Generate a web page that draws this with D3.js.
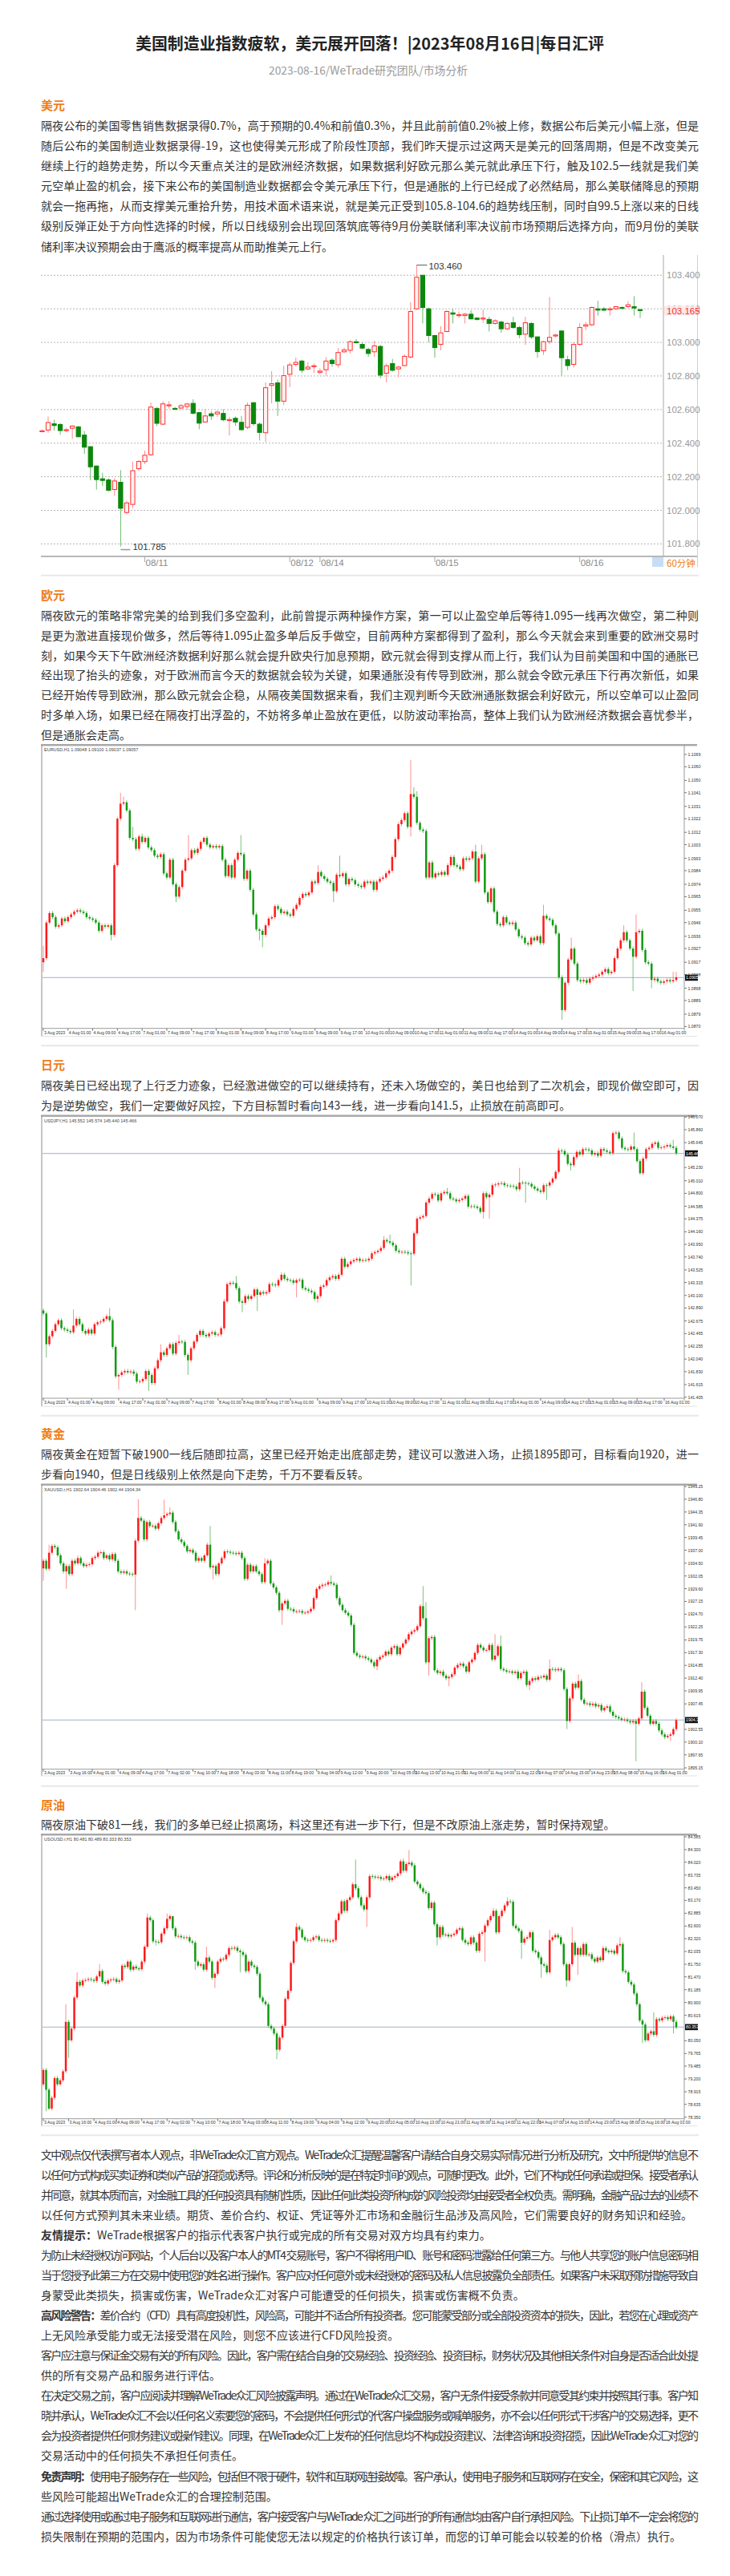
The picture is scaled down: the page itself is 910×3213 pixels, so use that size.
<!DOCTYPE html>
<html><head><meta charset="utf-8">
<script src="https://cdn.jsdelivr.net/npm/d3@7/dist/d3.min.js"></script>
<style>html,body{margin:0;padding:0;background:#fff}svg{display:block}</style>
</head><body><svg id="c"></svg>
<script>
// ---------------- DATA ----------------
const titleText = "美国制造业指数疲软，美元展开回落！|2023年08月16日|每日汇评";
const subText = "2023-08-16/WeTrade研究团队/市场分析";

const usdLines = [
"隔夜公布的美国零售销售数据录得0.7%，高于预期的0.4%和前值0.3%，并且此前前值0.2%被上修，数据公布后美元小幅上涨，但是",
"随后公布的美国制造业数据录得-19，这也使得美元形成了阶段性顶部，我们昨天提示过这两天是美元的回落周期，但是不改变美元",
"继续上行的趋势走势，所以今天重点关注的是欧洲经济数据，如果数据利好欧元那么美元就此承压下行，触及102.5一线就是我们美",
"元空单止盈的机会，接下来公布的美国制造业数据都会令美元承压下行，但是通胀的上行已经成了必然结局，那么美联储降息的预期",
"就会一拖再拖，从而支撑美元重拾升势，用技术面术语来说，就是美元正受到105.8-104.6的趋势线压制，同时自99.5上涨以来的日线",
"级别反弹正处于方向性选择的时候，所以日线级别会出现回落筑底等待9月份美联储利率决议前市场预期后选择方向，而9月份的美联",
"储利率决议预期会由于鹰派的概率提高从而助推美元上行。"];
const eurLines = [
"隔夜欧元的策略非常完美的给到我们多空盈利，此前曾提示两种操作方案，第一可以止盈空单后等待1.095一线再次做空，第二种则",
"是更为激进直接现价做多，然后等待1.095止盈多单后反手做空，目前两种方案都得到了盈利，那么今天就会来到重要的欧洲交易时",
"刻，如果今天下午欧洲经济数据利好那么就会提升欧央行加息预期，欧元就会得到支撑从而上行，我们认为目前美国和中国的通胀已",
"经出现了抬头的迹象，对于欧洲而言今天的数据就会较为关键，如果通胀没有传导到欧洲，那么就会令欧元承压下行再次新低，如果",
"已经开始传导到欧洲，那么欧元就会企稳，从隔夜美国数据来看，我们主观判断今天欧洲通胀数据会利好欧元，所以空单可以止盈同",
"时多单入场，如果已经在隔夜打出浮盈的，不妨将多单止盈放在更低，以防波动率抬高，整体上我们认为欧洲经济数据会喜忧参半，",
"但是通胀会走高。"];
const jpyLines = [
"隔夜美日已经出现了上行乏力迹象，已经激进做空的可以继续持有，还未入场做空的，美日也给到了二次机会，即现价做空即可，因",
"为是逆势做空，我们一定要做好风控，下方目标暂时看向143一线，进一步看向141.5，止损放在前高即可。"];
const goldLines = [
"隔夜黄金在短暂下破1900一线后随即拉高，这里已经开始走出底部走势，建议可以激进入场，止损1895即可，目标看向1920，进一",
"步看向1940，但是日线级别上依然是向下走势，千万不要看反转。"];
const oilLines = [
"隔夜原油下破81一线，我们的多单已经止损离场，料这里还有进一步下行，但是不改原油上涨走势，暂时保持观望。"];
const discParas = [
 [{t:"文中观点仅代表撰写者本人观点，非WeTrade众汇官方观点。WeTrade众汇提醒温馨客户请结合自身交易实际情况进行分析及研究，文中所提供的信息不"},
  {t:"以任何方式构成买卖证券和类似产品的招揽或诱导。评论和分析反映的是在特定时间的观点，可随时更改。此外，它们不构成任何承诺或担保。接受者承认"},
  {t:"并同意，就其本质而言，对金融工具的任何投资具有随机性质，因此任何此类投资所构成的风险投资均由接受者全权负责。需明确，金融产品过去的业绩不"},
  {t:"以任何方式预判其未来业绩。期货、差价合约、权证、凭证等外汇市场和金融衍生品涉及高风险，它们需要良好的财务知识和经验。"}],
 [{b:"友情提示：",t:"WeTrade根据客户的指示代表客户执行或完成的所有交易对双方均具有约束力。"}],
 [{t:"为防止未经授权访问网站，个人后台以及客户本人的MT4 交易账号，客户不得将用户ID、账号和密码泄露给任何第三方。与他人共享您的账户信息密码相"},
  {t:"当于您授予此第三方在交易中使用您的姓名进行操作。客户应对任何意外或未经授权的密码及私人信息披露负全部责任。如果客户未采取预防措施导致自"},
  {t:"身蒙受此类损失，损害或伤害，WeTrade众汇对客户可能遭受的任何损失，损害或伤害概不负责。"}],
 [{b:"高风险警告：",t:"差价合约（CFD）具有高度投机性，风险高，可能并不适合所有投资者。您可能蒙受部分或全部投资资本的损失，因此，若您在心理或资产"},
  {t:"上无风险承受能力或无法接受潜在风险，则您不应该进行CFD风险投资。"}],
 [{t:"客户应注意与保证金交易有关的所有风险。因此，客户需在结合自身的交易经验、投资经验、投资目标，财务状况及其他相关条件对自身是否适合此处提"},
  {t:"供的所有交易产品和服务进行评估。"}],
 [{t:"在决定交易之前，客户应阅读并理解WeTrade众汇风险披露声明。通过在WeTrade众汇交易，客户无条件接受条款并同意受其约束并按照其行事。客户知"},
  {t:"晓并承认，WeTrade众汇不会以任何名义索要您的密码，不会提供任何形式的代客户操盘服务或喊单服务，亦不会以任何形式干涉客户的交易选择，更不"},
  {t:"会为投资者提供任何财务建议或操作建议。同理，在WeTrade众汇上发布的任何信息均不构成投资建议、法律咨询和投资招揽，因此WeTrade 众汇对您的"},
  {t:"交易活动中的任何损失不承担任何责任。"}],
 [{b:"免责声明：",t:"使用电子服务存在一些风险，包括但不限于硬件，软件和互联网连接故障。客户承认，使用电子服务和互联网存在安全，保密和其它风险，这"},
  {t:"些风险可能超出WeTrade众汇的合理控制范围。"}],
 [{t:"通过选择使用或通过电子服务和互联网进行通信，客户接受客户与WeTrade 众汇之间进行的所有通信均由客户自行承担风险。下止损订单不一定会将您的"},
  {t:"损失限制在预期的范围内，因为市场条件可能使您无法以规定的价格执行该订单，而您的订单可能会以较差的价格（滑点）执行。"}]
];

// USD index, 60-minute candles
const usdO = [102.472,102.478,102.515,102.511,102.477,102.489,102.497,102.448,102.379,102.264,102.188,102.181,102.124,102.167,101.987,102.035,102.248,102.290,102.331,102.607,102.513,102.625,102.607,102.609,102.618,102.637,102.582,102.526,102.575,102.574,102.577,102.537,102.548,102.524,102.494,102.641,102.513,102.462,102.744,102.759,102.650,102.810,102.869,102.889,102.842,102.858,102.822,102.837,102.894,102.867,102.944,102.953,103.004,102.988,102.958,102.944,102.976,102.816,102.874,102.842,102.862,102.913,103.200,103.400,103.200,103.041,102.988,103.065,103.176,103.160,103.160,103.168,103.145,103.140,103.137,103.113,103.121,103.081,103.117,103.089,103.049,103.113,103.033,102.950,103.005,103.039,103.068,102.897,102.869,102.988,103.097,103.105,103.200,103.200,103.195,103.200,103.208,103.213,103.213,103.195];
const usdH = [102.480,102.559,102.539,102.520,102.491,102.507,102.502,102.472,102.382,102.266,102.224,102.192,102.192,102.239,102.057,102.291,102.299,102.355,102.642,102.615,102.650,102.650,102.615,102.634,102.642,102.661,102.586,102.602,102.591,102.594,102.602,102.555,102.559,102.562,102.642,102.644,102.523,102.762,102.829,102.778,102.861,102.881,102.909,102.897,102.881,102.874,102.845,102.913,102.905,102.966,102.969,103.014,103.020,103.001,102.969,103.009,102.985,102.874,102.902,102.861,102.929,103.240,103.460,103.400,103.208,103.045,103.097,103.192,103.200,103.184,103.176,103.192,103.150,103.196,103.152,103.137,103.129,103.121,103.152,103.097,103.152,103.120,103.035,103.010,103.270,103.050,103.070,102.921,103.001,103.116,103.121,103.216,103.248,103.210,103.212,103.216,103.215,103.245,103.275,103.200];
const usdL = [102.465,102.462,102.475,102.451,102.467,102.424,102.435,102.336,102.180,102.124,102.145,102.111,102.086,101.785,101.977,102.012,102.236,102.275,102.323,102.502,102.507,102.606,102.598,102.602,102.599,102.570,102.483,102.523,102.539,102.555,102.531,102.446,102.503,102.475,102.483,102.503,102.416,102.406,102.637,102.562,102.626,102.733,102.858,102.818,102.834,102.818,102.810,102.802,102.855,102.850,102.937,102.934,102.993,102.961,102.913,102.913,102.786,102.762,102.826,102.794,102.858,102.905,103.192,103.113,103.001,102.909,102.953,103.060,103.113,103.145,103.113,103.137,103.130,103.117,103.065,103.105,103.057,103.073,103.081,103.025,102.985,103.020,102.909,102.925,102.990,103.030,102.802,102.834,102.850,102.980,103.073,103.097,103.160,103.185,103.160,103.192,103.200,103.205,103.160,103.145];
const usdC = [102.474,102.523,102.505,102.475,102.480,102.502,102.438,102.376,102.259,102.183,102.178,102.119,102.175,102.012,102.044,102.236,102.291,102.328,102.615,102.518,102.634,102.628,102.602,102.623,102.633,102.578,102.519,102.562,102.562,102.585,102.539,102.540,102.526,102.480,102.626,102.516,102.464,102.730,102.754,102.650,102.802,102.866,102.881,102.834,102.853,102.861,102.829,102.889,102.874,102.940,102.955,103.004,102.998,102.966,102.934,102.979,102.805,102.861,102.834,102.853,102.917,103.184,103.388,103.208,103.041,102.969,103.057,103.184,103.168,103.165,103.168,103.140,103.137,103.145,103.113,103.129,103.081,103.113,103.089,103.046,103.117,103.033,102.945,103.004,103.030,103.044,102.909,102.862,102.988,103.089,103.105,103.208,103.192,103.192,103.200,103.213,103.205,103.224,103.205,103.192];
const usdTicks = [103.4,103.2,103.0,102.8,102.6,102.4,102.2,102.0,101.8];
const usdDates = ["08/11","08/12","08/14","08/15","08/16"];
const usdDateIdx = [17,41,46,65,89];
const usdLast = "103.165";

// EURUSD H1
const eurOpen0 = 1.0917;
const eurClose = [1.0920,1.0946,1.0953,1.0950,1.0943,1.0944,1.0949,1.0947,1.0950,1.0952,
1.0954,1.0955,1.0954,1.0953,1.0950,1.0949,1.0948,1.0946,1.0940,1.0944,
1.0943,1.0944,1.0937,1.0988,1.1022,1.1033,1.1034,1.1028,1.1008,1.1007,
1.1000,1.1009,1.1005,1.1008,1.1001,1.0999,1.0995,1.0994,1.0996,1.0982,
1.0979,1.0992,1.0974,1.0965,1.0972,1.0984,1.0992,1.0993,1.0999,1.0997,
1.1000,1.1005,1.1008,1.1003,1.1001,1.1002,1.1001,1.1002,1.0992,1.0980,
1.0988,1.0979,1.0992,1.0997,1.0996,1.0978,1.0984,1.0970,1.0952,1.0941,
1.0940,1.0937,1.0944,1.0949,1.0950,1.0958,1.0956,1.0953,1.0954,1.0952,
1.0951,1.0956,1.0959,1.0964,1.0967,1.0966,1.0968,1.0976,1.0975,1.0983,
1.0980,1.0978,1.0976,1.0975,1.0969,1.0981,1.0980,1.0982,1.0974,1.0978,
1.0977,1.0974,1.0973,1.0972,1.0976,1.0975,1.0976,1.0970,1.0976,1.0978,
1.0979,1.0982,1.0984,1.0994,1.1007,1.1018,1.1021,1.1026,1.1016,1.1040,
1.1038,1.1019,1.1014,1.1013,1.0979,1.0990,1.0979,1.0982,1.0981,1.0983,
1.0981,1.0988,1.0994,1.0988,1.0987,1.0985,1.0993,1.0992,1.0993,1.0998,
1.0976,1.0993,1.0996,1.0968,1.0961,1.0971,1.0954,1.0945,1.0944,1.0950,
1.0946,1.0945,1.0946,1.0941,1.0936,1.0935,1.0931,1.0930,1.0935,1.0933,
1.0936,1.0931,1.0951,1.0949,1.0948,1.0944,1.0938,1.0906,1.0882,1.0902,
1.0919,1.0927,1.0916,1.0904,1.0903,1.0904,1.0902,1.0905,1.0906,1.0907,
1.0908,1.0910,1.0912,1.0909,1.0910,1.0920,1.0927,1.0933,1.0939,1.0933,
1.0927,1.0921,1.0939,1.0940,1.0926,1.0917,1.0916,1.0904,1.0905,1.0903,
1.0902,1.0903,1.0904,1.0903,1.0904,1.0906];
const eurWicks = [[0,1.0929,1.0910],[22,null,1.0933],[25,1.1041,null],[26,1.1038,null],[29,1.1016,null],[32,1.1011,null],[43,null,1.0961],[47,1.1010,null],[52,1.1009,null],[64,1.1010,null],[70,null,1.0933],[71,null,1.0928],[89,1.0988,null],[94,null,1.0961],[96,1.0995,null],[119,1.1065,1.1009],[120,1.1045,null],[121,1.1042,null],[140,1.1003,null],[142,1.1003,null],[162,1.0959,null],[168,null,1.0875],[171,1.0935,null],[188,1.0944,null],[191,null,1.0896],[192,1.0952,null],[197,null,1.0898],[204,1.0910,null],[205,1.0910,null]];
const eurTicks = [1.1069,1.1060,1.1050,1.1041,1.1031,1.1022,1.1012,1.1003,1.0993,1.0984,1.0974,1.0965,1.0955,1.0946,1.0936,1.0927,1.0917,1.0908,1.0898,1.0889,1.0879,1.0870];
const eurLast = 1.09057;

// USDJPY H1
const jpyOpen0 = 142.85;
const jpyClose = [142.799,142.287,142.420,142.509,142.620,142.687,142.554,142.531,142.509,142.487,
142.598,142.709,142.620,142.509,142.465,142.531,142.465,142.620,142.652,142.665,
142.709,142.754,142.687,142.242,141.752,141.775,141.819,141.841,141.819,141.833,
141.797,141.664,141.670,141.708,141.841,141.775,141.641,141.886,142.020,142.153,
142.109,142.220,142.287,142.131,142.309,142.331,142.325,142.109,142.020,142.220,
142.331,142.443,142.509,142.443,142.420,142.465,142.487,142.443,142.450,142.554,
142.999,143.288,143.310,143.305,143.221,142.999,142.977,143.088,143.043,143.088,
143.199,143.110,143.154,143.132,143.154,143.288,143.280,143.266,143.355,143.444,
143.377,143.355,143.350,143.310,143.355,143.360,143.221,143.199,143.177,143.154,
143.043,143.088,143.244,143.266,143.355,143.399,143.422,143.377,143.444,143.711,
143.578,143.622,143.666,143.689,143.711,143.675,143.689,143.685,143.711,143.800,
143.822,143.844,143.889,144.023,144.000,143.978,143.934,143.844,143.822,143.825,
143.820,143.800,143.795,144.134,144.379,144.401,144.423,144.646,144.713,144.788,
144.779,144.681,144.801,144.824,144.801,144.713,144.699,144.668,144.690,144.713,
144.757,144.579,144.585,144.579,144.557,144.490,144.801,144.735,144.779,144.935,
144.948,144.966,144.971,144.935,144.926,144.922,144.913,144.868,144.980,144.975,
144.966,144.957,144.913,144.877,144.846,144.824,144.935,144.930,144.980,145.046,
145.158,145.514,145.505,145.447,145.291,145.269,145.402,145.491,145.447,145.536,
145.530,145.514,145.447,145.469,145.425,145.536,145.514,145.491,145.469,145.803,
145.812,145.714,145.558,145.536,145.527,145.580,145.536,145.336,145.135,145.380,
145.536,145.558,145.625,145.647,145.558,145.565,145.580,145.603,145.580,145.558,
145.466];
const jpyWicks = [[1,null,142.064],[10,142.865,null],[22,142.887,null],[25,null,141.530],[35,null,141.508],[39,142.287,null],[45,142.443,null],[48,null,141.775],[60,143.043,null],[64,143.422,null],[66,null,142.821],[71,null,142.843],[79,143.488,null],[84,null,143.066],[91,null,142.977],[113,144.089,null],[115,144.112,null],[122,null,143.266],[134,144.890,null],[146,null,144.379],[148,null,144.379],[158,145.224,null],[160,null,144.646],[167,null,144.690],[171,145.558,null],[175,null,145.180],[190,145.847,null],[196,145.812,null],[198,null,145.113],[209,145.692,null]];
const jpyTicks = [146.070,145.860,145.645,145.230,145.010,144.800,144.585,144.375,144.160,143.950,143.740,143.525,143.315,143.100,142.890,142.675,142.465,142.255,142.040,141.830,141.615,141.405];
const jpyLast = 145.466;

// XAUUSD H1
const goldOpen0 = 1933.50;
const goldClose = [1934.98,1933.44,1936.52,1937.81,1937.55,1936.01,1934.47,1932.92,1933.95,1932.41,
1934.98,1934.47,1935.49,1934.47,1933.95,1934.21,1934.30,1935.49,1935.75,1936.52,
1936.62,1935.49,1936.01,1935.24,1936.27,1934.98,1932.92,1932.67,1932.92,1932.51,
1932.41,1932.30,1938.83,1943.20,1942.69,1939.09,1942.43,1941.66,1941.70,1941.15,
1942.18,1943.20,1943.72,1943.97,1944.23,1942.43,1940.63,1939.09,1938.58,1937.81,
1936.78,1937.04,1936.52,1934.98,1935.49,1934.98,1936.01,1938.06,1933.70,1933.95,
1932.41,1934.47,1935.49,1936.78,1936.70,1936.52,1936.45,1936.27,1936.52,1935.49,
1931.49,1934.21,1932.92,1933.95,1932.92,1932.41,1930.87,1934.47,1934.98,1930.61,
1929.84,1928.81,1925.47,1926.76,1927.27,1925.73,1925.65,1925.22,1925.25,1925.30,
1924.96,1925.00,1925.22,1925.73,1927.79,1929.58,1930.10,1930.35,1930.40,1930.87,
1930.61,1930.35,1927.79,1926.50,1925.47,1924.96,1924.44,1922.65,1917.25,1916.74,
1916.48,1916.55,1916.22,1915.97,1915.45,1914.68,1915.97,1916.48,1916.74,1917.51,
1917.00,1918.28,1918.54,1917.00,1918.28,1919.05,1919.82,1920.85,1921.36,1921.62,
1922.39,1926.24,1923.93,1915.45,1920.08,1920.33,1913.91,1913.40,1913.65,1912.88,
1912.37,1912.63,1913.14,1914.42,1914.94,1915.20,1914.68,1913.65,1915.45,1915.97,
1917.25,1918.79,1918.28,1917.76,1917.80,1918.79,1915.97,1916.74,1918.54,1914.17,
1913.91,1913.65,1913.70,1913.40,1913.65,1912.37,1913.40,1913.65,1911.08,1911.85,
1912.37,1912.11,1912.63,1912.55,1912.88,1912.11,1914.17,1914.10,1913.91,1914.17,
1913.91,1910.31,1904.15,1908.51,1911.34,1910.57,1911.85,1908.26,1907.49,1907.55,
1907.23,1907.49,1906.97,1907.23,1906.20,1906.71,1906.97,1905.94,1905.17,1904.92,
1904.66,1904.40,1904.45,1904.15,1903.89,1904.15,1903.63,1904.66,1909.80,1906.71,
1905.17,1903.63,1904.15,1903.63,1902.35,1901.58,1901.06,1901.32,1901.58,1902.60,
1904.34];
const goldWicks = [[0,null,1931.12],[2,1938.06,null],[8,null,1929.58],[12,1936.01,null],[32,null,1925.47],[33,1946.80,null],[42,1946.70,null],[44,1945.26,null],[58,1941.66,null],[59,null,1931.38],[77,1935.49,null],[83,null,1922.65],[100,1932.15,null],[116,null,1913.91],[132,1930.10,null],[133,1927.02,null],[134,null,1912.88],[141,null,1910.83],[157,1920.85,null],[159,1920.59,null],[169,null,1910.06],[176,1915.97,null],[182,null,1902.60],[186,1913.14,null],[206,null,1896.44],[208,1911.60,null],[218,null,1900.29]];
const goldTicks = [1949.25,1946.80,1944.35,1941.90,1939.45,1937.00,1934.50,1932.05,1929.60,1927.15,1924.70,1922.25,1919.75,1917.30,1914.85,1912.40,1909.95,1907.45,1902.55,1900.10,1897.65,1895.15];
const goldLast = 1904.34;

// USOUSD H1
const oilOpen0 = 79.08;
const oilClose = [79.40,78.96,78.54,78.78,79.22,79.08,79.17,79.37,80.47,80.06,
80.32,81.01,81.36,81.28,81.39,81.40,81.42,81.405,81.38,81.48,
81.60,81.36,81.32,81.39,81.41,81.42,81.36,81.39,81.72,81.69,
81.81,81.63,81.70,81.66,81.64,81.81,82.14,82.79,82.73,82.26,
82.25,82.24,82.43,82.55,82.76,82.82,82.55,82.37,82.38,82.35,
82.34,82.35,82.26,82.23,81.81,81.72,81.75,81.63,81.90,81.81,
81.45,81.54,81.81,81.87,81.86,81.96,82.11,82.10,82.12,82.05,
82.02,81.96,81.60,81.81,81.72,81.69,81.54,81.01,80.92,80.86,
80.38,80.32,80.21,79.85,80.12,80.38,80.98,81.16,81.78,82.26,
82.58,82.52,82.35,82.29,82.28,82.29,82.35,82.37,82.29,82.28,
82.29,82.27,82.26,82.29,82.73,82.88,83.15,82.94,83.18,83.24,
83.53,83.44,83.24,83.06,82.97,83.24,83.71,83.70,83.68,83.69,
83.65,83.66,83.71,83.62,83.68,83.71,83.77,84.04,83.83,83.98,
84.01,83.95,83.59,83.53,83.44,83.36,83.33,83.00,83.12,82.64,
82.35,82.58,82.40,82.41,82.37,82.40,82.43,82.52,82.55,82.29,
82.23,82.20,82.35,82.23,82.05,82.43,82.46,82.61,82.73,82.82,
82.94,82.46,82.82,82.94,83.06,83.15,83.14,82.61,82.55,82.49,
82.23,82.32,82.35,82.46,82.05,82.02,81.90,81.75,81.72,81.57,
82.29,82.35,82.40,82.35,82.20,81.75,81.39,81.75,82.23,81.96,
82.11,81.96,82.20,81.96,81.97,81.87,81.81,81.90,81.84,82.11,
82.05,82.02,82.05,81.99,82.17,82.20,81.60,81.57,81.36,81.30,
81.10,80.86,80.50,80.41,80.06,80.21,80.26,80.18,80.53,80.50,
80.56,80.57,80.53,80.59,80.47,80.35];
const oilWicks = [[1,null,78.48],[2,null,78.51],[8,80.86,null],[9,null,79.67],[12,81.57,null],[20,81.75,null],[37,82.88,null],[40,null,82.17],[44,82.88,null],[46,82.70,null],[54,null,81.63],[58,82.14,null],[61,null,81.22],[70,null,81.57],[83,null,79.64],[90,82.67,null],[111,84.08,null],[115,null,82.58],[128,84.10,null],[130,84.29,null],[140,null,82.17],[157,null,81.81],[160,83.00,null],[165,83.24,null],[170,null,81.87],[177,null,81.45],[180,82.52,null],[186,null,81.25],[188,82.58,null],[190,null,81.51],[205,82.35,null],[213,null,80.00],[215,null,80.03],[217,80.68,null],[224,null,80.21]];
const oilTicks = [84.585,84.300,84.020,83.735,83.450,83.170,82.885,82.600,82.320,82.035,81.750,81.470,81.185,80.900,80.615,80.050,79.765,79.485,79.200,78.915,78.635,78.350];
const oilLast = 80.353;

const datesA = ["3 Aug 2023","4 Aug 01:00","4 Aug 09:00","4 Aug 17:00","7 Aug 01:00","7 Aug 09:00","7 Aug 17:00","8 Aug 01:00","8 Aug 09:00","8 Aug 17:00","9 Aug 01:00","9 Aug 09:00","9 Aug 17:00","10 Aug 01:00","10 Aug 09:00","10 Aug 17:00","11 Aug 01:00","11 Aug 09:00","11 Aug 17:00","14 Aug 01:00","14 Aug 09:00","14 Aug 17:00","15 Aug 01:00","15 Aug 09:00","15 Aug 17:00","16 Aug 01:00"];
const datesB = ["3 Aug 2023","3 Aug 16:00","4 Aug 01:00","4 Aug 09:00","4 Aug 17:00","7 Aug 02:00","7 Aug 10:00","7 Aug 18:00","8 Aug 03:00","8 Aug 11:00","8 Aug 19:00","9 Aug 04:00","9 Aug 12:00","9 Aug 20:00","10 Aug 05:00","10 Aug 13:00","10 Aug 21:00","11 Aug 06:00","11 Aug 14:00","11 Aug 22:00","14 Aug 07:00","14 Aug 15:00","14 Aug 23:00","15 Aug 08:00","15 Aug 16:00","16 Aug 01:00"];
const eurDateIdx = [0,8,16,24,32,40,48,56,64,72,80,88,96,104,112,120,128,136,144,152,160,168,176,184,192,200];
const jpyDateIdx = [0,8,16,25,33,41,49,58,66,74,82,91,99,107,115,123,132,140,148,156,165,173,181,189,197,206];
const goldDateIdx = [0,9,17,26,34,43,52,60,69,78,86,95,103,112,121,129,138,146,155,164,172,181,190,198,207,215];
const oilDateIdx = [0,9,18,26,35,44,53,62,71,79,88,97,106,115,123,132,141,150,159,168,176,185,194,203,212,221];

// ---------------- DRAW ----------------
const CJK = "'Noto Sans CJK SC','Noto Sans',sans-serif";
const LAT = "'Liberation Sans',Arial,sans-serif";
const svg = d3.select('#c').attr('width',910).attr('height',3213);
svg.append('rect').attr('width',910).attr('height',3213).attr('fill','#fff');

svg.append('text').attr('x',461).attr('y',53).attr('text-anchor','middle').attr('dominant-baseline','central')
  .attr('font-family',CJK).attr('font-size',20).attr('font-weight',700).attr('fill','#222')
  .attr('textLength',584).attr('lengthAdjust','spacingAndGlyphs').text(titleText);
svg.append('text').attr('x',459).attr('y',87).attr('text-anchor','middle').attr('dominant-baseline','central')
  .attr('font-family',CJK).attr('font-size',14).attr('fill','#9a9a9a')
  .attr('textLength',248).attr('lengthAdjust','spacingAndGlyphs').text(subText);

function header(txt,y){
  svg.append('text').attr('x',51).attr('y',y).attr('dominant-baseline','central')
    .attr('font-family',CJK).attr('font-size',15).attr('font-weight',700).attr('fill','#ef7d1a').text(txt);
}
function para(lines,y0,step){
  lines.forEach((ln,j)=>{
    const o = typeof ln==='string'?{t:ln}:ln;
    const t = svg.append('text').attr('x',51).attr('y',y0+j*step).attr('dominant-baseline','central')
      .attr('font-family',CJK).attr('font-size',14).attr('fill','#333');
    if(o.b) t.append('tspan').attr('font-weight',700).text(o.b);
    t.append('tspan').text(o.t);
    if(j<lines.length-1) t.attr('textLength',820).attr('lengthAdjust','spacing');
  });
}
function sep(y){
  svg.append('line').attr('x1',51).attr('x2',871).attr('y1',y).attr('y2',y).attr('stroke','#e8e8e8').attr('stroke-width',2);
}

header('美元',130); para(usdLines,155.7,25.15);
header('欧元',741.7); para(eurLines,766.7,24.9);
header('日元',1327.3); para(jpyLines,1353.3,25);
header('黄金',1787.3); para(goldLines,1813.3,25);
header('原油',2250); para(oilLines,2275,25);
let yy=2686.7; discParas.forEach(p=>{para(p,yy,25.05); yy+=p.length*25.05;});
[717.7,1304.3,1765.7,2227.7,2663.3].forEach(sep);

// ---------- Chart 1: USD index ----------
(function(){
  const g = svg.append('g');
  const x = d3.scaleLinear().domain([0,usdC.length-1]).range([52.5,798]);
  const y = d3.scaleLinear().domain([101.8,103.4]).range([678.4,343.3]);
  g.selectAll('.gl').data(usdTicks).join('line').attr('x1',51).attr('x2',827)
    .attr('y1',d=>y(d)).attr('y2',d=>y(d)).attr('stroke','#b5b5b5').attr('stroke-dasharray','2,2');
  g.append('line').attr('x1',827).attr('x2',827).attr('y1',318).attr('y2',694).attr('stroke','#a8a8a8');
  g.append('line').attr('x1',869.5).attr('x2',869.5).attr('y1',318).attr('y2',707).attr('stroke','#d0d0d0');
  g.append('line').attr('x1',51).attr('x2',869).attr('y1',694).attr('y2',694).attr('stroke','#a0a0a0').attr('stroke-width',1.5);
  g.selectAll('.tl').data(usdTicks).join('text').attr('x',831).attr('y',d=>y(d)).attr('dominant-baseline','central')
    .attr('font-family',LAT).attr('font-size',11.5).attr('fill','#999').text(d=>d3.format('.3f')(d));
  // candles
  const idx = d3.range(usdC.length);
  g.selectAll('.wk').data(idx).join('line').attr('x1',i=>x(i)).attr('x2',i=>x(i))
    .attr('y1',i=>y(usdH[i])).attr('y2',i=>y(usdL[i]))
    .attr('stroke',i=>usdC[i]>=usdO[i]?'#ff8a8a':'#6fb86f').attr('stroke-width',1);
  g.selectAll('.bd').data(idx).join('rect').attr('x',i=>x(i)-2.6).attr('width',5.2)
    .attr('y',i=>y(Math.max(usdO[i],usdC[i])))
    .attr('height',i=>Math.max(1.2,Math.abs(y(usdO[i])-y(usdC[i]))))
    .attr('fill',i=>usdC[i]>=usdO[i]?'#fff2f2':'#0b870b')
    .attr('stroke',i=>usdC[i]>=usdO[i]?'#ff3030':'#0b870b').attr('stroke-width',1);
  // high / low annotations
  const hi = d3.maxIndex(usdH), lo = d3.minIndex(usdL);
  g.append('line').attr('x1',x(hi)).attr('x2',x(hi)+13).attr('y1',y(usdH[hi])).attr('y2',y(usdH[hi])).attr('stroke','#555');
  g.append('text').attr('x',x(hi)+15).attr('y',y(usdH[hi])+1).attr('dominant-baseline','central')
    .attr('font-family',LAT).attr('font-size',11.5).attr('fill','#333').text(d3.format('.3f')(usdH[hi]));
  g.append('line').attr('x1',x(lo)).attr('x2',x(lo)+12).attr('y1',y(usdL[lo])+4).attr('y2',y(usdL[lo])+4).attr('stroke','#999').attr('stroke-width',1.5);
  g.append('text').attr('x',x(lo)+15).attr('y',y(usdL[lo])).attr('dominant-baseline','central')
    .attr('font-family',LAT).attr('font-size',11.5).attr('fill','#333').text(d3.format('.3f')(usdL[lo]));
  // last price box
  g.append('rect').attr('x',828).attr('y',381.5).attr('width',41).attr('height',12).attr('fill','#fde9e9');
  g.append('text').attr('x',831).attr('y',387.5).attr('dominant-baseline','central').attr('font-family',LAT)
    .attr('font-size',11.5).attr('fill','#f03030').text(usdLast);
  // date axis
  g.selectAll('.dt').data(usdDateIdx).join('line').attr('x1',d=>x(d)).attr('x2',d=>x(d)).attr('y1',694).attr('y2',701).attr('stroke','#aaa');
  g.selectAll('.dl').data(usdDates).join('text').attr('x',(d,i)=>x(usdDateIdx[i])+1).attr('y',701.5).attr('dominant-baseline','central')
    .attr('font-family',LAT).attr('font-size',11.5).attr('fill','#8a8a8a').text(d=>d);
  g.append('rect').attr('x',813).attr('y',695).attr('width',14).attr('height',12).attr('fill','#c7ddf6');
  g.append('text').attr('x',831).attr('y',701.5).attr('dominant-baseline','central').attr('font-family',CJK)
    .attr('font-size',11.5).attr('fill','#f07a10').text('60分钟');
})();

// ---------- MT4 charts ----------
function mt4(c){
  const g = svg.append('g');
  const N = c.closes.length;
  const x = d3.scaleLinear().domain([0,N-1]).range([54,843]);
  const y = d3.scaleLinear().domain([c.vb,c.vt]).range([c.yb,c.yt]);
  const L=52, R=853;
  // frame
  g.append('line').attr('x1',51).attr('x2',869).attr('y1',c.top).attr('y2',c.top).attr('stroke','#a9a9a9').attr('stroke-width',2.5);
  g.append('line').attr('x1',L).attr('x2',L).attr('y1',c.top).attr('y2',c.imgBottom).attr('stroke','#8d8d8d');
  g.append('line').attr('x1',R).attr('x2',R).attr('y1',c.top).attr('y2',c.bottom+3).attr('stroke','#9a9a9a');
  g.append('line').attr('x1',L).attr('x2',R).attr('y1',c.bottom).attr('y2',c.bottom).attr('stroke','#9a9a9a');
  g.append('line').attr('x1',51).attr('x2',869).attr('y1',c.imgBottom).attr('y2',c.imgBottom).attr('stroke','#e2e2e2');
  g.append('text').attr('x',55).attr('y',c.top+6).attr('dominant-baseline','central').attr('font-family',LAT)
    .attr('font-size',5.5).attr('fill','#444').text(c.header);
  // current price line
  g.append('line').attr('x1',L).attr('x2',R).attr('y1',y(c.last)).attr('y2',y(c.last)).attr('stroke','#b7bfd6').attr('stroke-width',1.2);
  // y ticks
  g.selectAll('.tk').data(c.ticks).join('line').attr('x1',R).attr('x2',R+3).attr('y1',d=>y(d)).attr('y2',d=>y(d)).attr('stroke','#777');
  g.selectAll('.tl').data(c.ticks).join('text').attr('x',R+4.5).attr('y',d=>y(d)).attr('dominant-baseline','central')
    .attr('font-family',LAT).attr('font-size',5.2).attr('fill','#333').text(d=>d3.format(c.fmt)(d));
  g.append('rect').attr('x',R+1).attr('y',y(c.last)-3.8).attr('width',16).attr('height',7.6).attr('fill','#111');
  g.append('text').attr('x',R+2).attr('y',y(c.last)).attr('dominant-baseline','central').attr('font-family',LAT)
    .attr('font-size',5.2).attr('fill','#fff').text(d3.format(c.lastFmt)(c.last));
  // date ticks
  g.selectAll('.dt').data(c.dateIdx).join('line').attr('x1',d=>x(d)).attr('x2',d=>x(d)).attr('y1',c.bottom).attr('y2',c.bottom+3).attr('stroke','#777');
  g.selectAll('.dl').data(c.dates).join('text').attr('x',(d,i)=>x(c.dateIdx[i])+1).attr('y',c.dateY).attr('dominant-baseline','central')
    .attr('font-family',LAT).attr('font-size',5.2).attr('fill','#333').text(d=>d);
  // candles
  const wmap = new Map(c.wicks.map(w=>[w[0],w]));
  const data = c.closes.map((cl,i)=>{
    const o = i===0?c.open0:c.closes[i-1];
    const w = wmap.get(i);
    const hiV = Math.max(o,cl), loV = Math.min(o,cl);
    return {i,o,c:cl,h:w&&w[1]!=null?Math.max(w[1],hiV):hiV,l:w&&w[2]!=null?Math.min(w[2],loV):loV,
            hx:!(w&&w[1]!=null), lx:!(w&&w[2]!=null)};
  });
  const up = d=>d.c>=d.o;
  g.selectAll('.wk').data(data).join('line').attr('x1',d=>x(d.i)).attr('x2',d=>x(d.i))
    .attr('y1',d=>y(d.h)-(d.hx?2.5:0)).attr('y2',d=>y(d.l)+(d.lx?2.5:0))
    .attr('stroke',d=>up(d)?'#ff5a5a':'#3aa63a').attr('stroke-width',0.9).attr('stroke-opacity',0.75);
  g.selectAll('.bd').data(data).join('rect').attr('x',d=>x(d.i)-1.25).attr('width',2.5)
    .attr('y',d=>y(Math.max(d.o,d.c))).attr('height',d=>Math.max(0.9,Math.abs(y(d.o)-y(d.c))))
    .attr('fill',d=>up(d)?'#ff1a1a':'#129a12');
}

mt4({top:929.3,bottom:1282.7,imgBottom:1292.7,dateY:1287.6,closes:eurClose,open0:eurOpen0,wicks:eurWicks,
  vt:1.1069,yt:941,vb:1.0879,yb:1265,ticks:eurTicks,fmt:'.4f',last:eurLast,lastFmt:'.5f',
  header:'EURUSD,H1  1.09048 1.09100 1.09037 1.09057',dates:datesA,dateIdx:eurDateIdx});
mt4({top:1391.7,bottom:1744,imgBottom:1754,dateY:1748.9,closes:jpyClose,open0:jpyOpen0,wicks:jpyWicks,
  vt:146.070,yt:1393.3,vb:141.405,yb:1742.7,ticks:jpyTicks,fmt:'.3f',last:jpyLast,lastFmt:'.3f',
  header:'USDJPY,H1  145.552 145.574 145.440 145.466',dates:datesA,dateIdx:jpyDateIdx});
mt4({top:1851.7,bottom:2206.7,imgBottom:2215,dateY:2211,closes:goldClose,open0:goldOpen0,wicks:goldWicks,
  vt:1946.80,yt:1870,vb:1895.15,yb:2205,ticks:goldTicks,fmt:'.2f',last:goldLast,lastFmt:'.2f',
  header:'XAUUSD.r,H1  1902.64 1904.46 1902.44 1904.34',dates:datesB,dateIdx:goldDateIdx});
mt4({top:2288.3,bottom:2642.7,imgBottom:2651.7,dateY:2647,closes:oilClose,open0:oilOpen0,wicks:oilWicks,
  vt:84.300,yt:2307,vb:78.350,yb:2640.7,ticks:oilTicks,fmt:'.3f',last:oilLast,lastFmt:'.3f',
  header:'USOUSD.r,H1  80.481 80.489 80.333 80.353',dates:datesB,dateIdx:oilDateIdx});
</script></body></html>
